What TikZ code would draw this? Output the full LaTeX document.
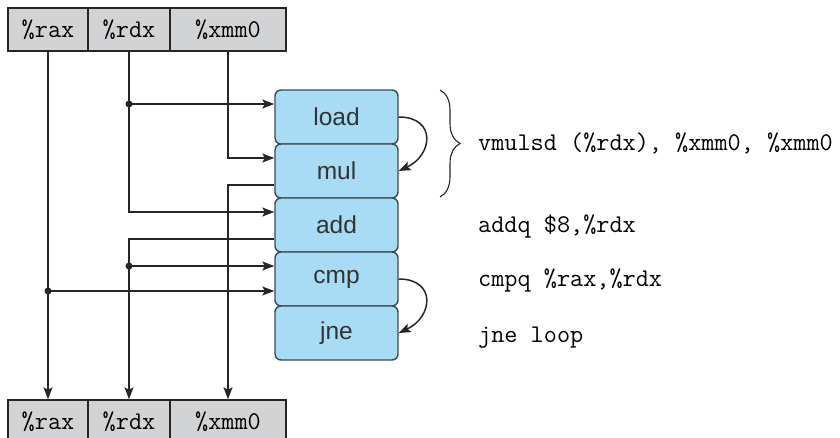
\documentclass[tikz,border=0pt]{standalone}
\usepackage{fontspec}
\newfontfamily\opsfont{Liberation Sans}
\usepackage{tikz}
\usetikzlibrary{arrows.meta,decorations.pathreplacing}
\definecolor{regfill}{HTML}{D2D3D5}
\definecolor{opfill}{HTML}{A8DCF4}
\definecolor{opline}{HTML}{3D4952}
\definecolor{wire}{HTML}{262626}
\tikzset{reg/.style = {shape = rectangle, draw = wire, fill = regfill, line width = 1.4pt, minimum height = 43pt, inner sep = 0pt, font = \ttfamily\fontsize{25.5}{28}\selectfont}}
\tikzset{op/.style = {shape = rectangle, rounded corners = 6pt, draw = opline, fill = opfill, line width = 1.4pt, minimum width = 123pt, minimum height = 54pt, font = \opsfont\fontsize{24.5}{28}\selectfont, text = black!80}}
\tikzset{edge/.style = {-{Stealth[length = 12pt, width = 9pt, inset = 2.5pt]}, draw = wire, line width = 1.5pt}}
\tikzset{dot/.style = {shape = circle, fill = wire, inner sep = 0pt, minimum size = 7pt}}
\tikzset{asm/.style = {anchor = base west, inner sep = 0pt, font = \ttfamily\fontsize{25.5}{28}\selectfont}}

\begin{document}
\begin{tikzpicture}[x = 1pt, y = -1pt]
			\useasboundingbox (0, 0) rectangle (840, 438);

			\node[reg, minimum width = 80pt] (rax1) at (48, 29.5) {\%rax};
			\node[reg, minimum width = 82pt] (rdx1) at (129, 29.5) {\%rdx};
			\node[reg, minimum width = 116pt] (xmm1) at (228, 29.5) {\%xmm0};
			\node[reg, minimum width = 80pt] (rax2) at (48, 421.5) {\%rax};
			\node[reg, minimum width = 82pt] (rdx2) at (129, 421.5) {\%rdx};
			\node[reg, minimum width = 116pt] (xmm2) at (228, 421.5) {\%xmm0};

			\node[op] (load) at (336.5, 117) {load};
			\node[op] (mul) at (336.5, 171) {mul};
			\node[op] (add) at (336.5, 225) {add};
			\node[op] (cmp) at (336.5, 279) {cmp};
			\node[op] (jne) at (336.5, 333) {jne};

			\coordinate (loadin) at ([yshift = 13pt]load.west);
			\coordinate (cmpin) at ([yshift = 13pt]cmp.west);
			\coordinate (cmpin2) at ([yshift = -12pt]cmp.west);

			\node[dot] (d1) at (rdx1.south |- loadin) {};
			\node[dot] (d2) at (rdx2.north |- cmpin) {};
			\node[dot] (d3) at (rax1.south |- cmpin2) {};

			\draw[edge] (rdx1.south) |- ([yshift = 13pt]add.west);
			\draw[edge] (d1.center) -- (loadin);
			\draw[edge] (xmm1.south) |- ([yshift = 13pt]mul.west);
			\draw[edge] ([yshift = -14pt]mul.west) -| (xmm2.north);
			\draw[edge] ([yshift = -14pt]add.west) -| (rdx2.north);
			\draw[edge] (d2.center) -- (cmpin);
			\draw[edge] (rax1.south) -- (rax2.north);
			\draw[edge] (d3.center) -- (cmpin2);

			\draw[edge] (load.east) to[out = 0, in = 25, looseness = 1.8] (mul.east);
			\draw[edge] (cmp.east) to[out = 0, in = 25, looseness = 1.8] (jne.east);

			\coordinate (btop) at (440, 90);
			\coordinate (bbot) at (440, 197);
			\draw[decorate, decoration = {brace, amplitude = 20pt}, draw = wire, line width = 1.1pt] (btop) -- (bbot);

			\node[asm] (t1) at (478, 151) {vmulsd (\%rdx), \%xmm0, \%xmm0};
			\node[asm] (t2) at (478, 233) {addq \$8,\%rdx};
			\node[asm] (t3) at (478, 287) {cmpq \%rax,\%rdx};
			\node[asm] (t4) at (478, 342) {jne loop};
		\end{tikzpicture}
\end{document}
